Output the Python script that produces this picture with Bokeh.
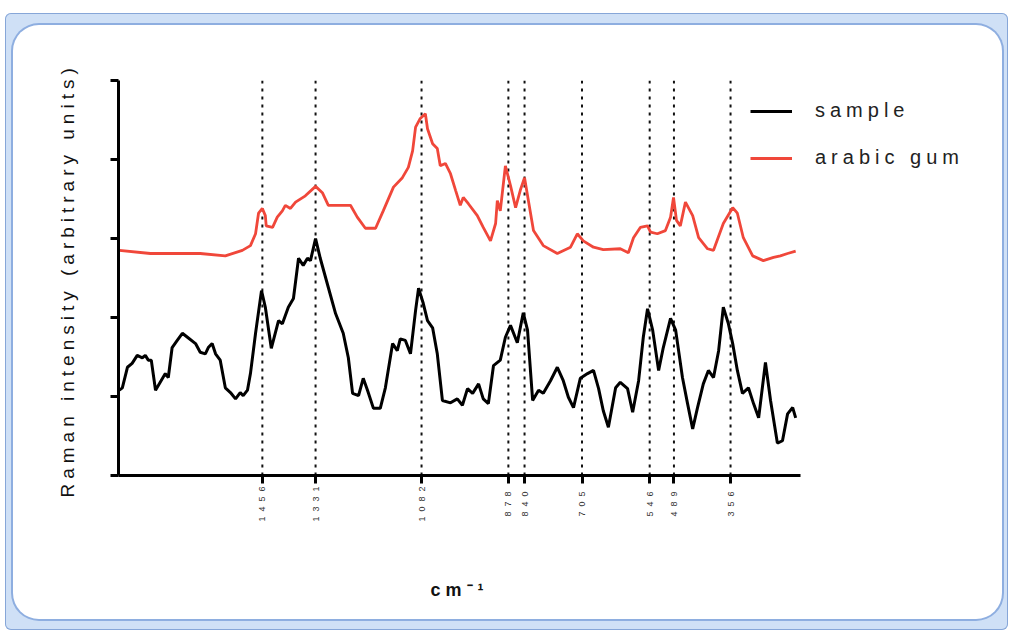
import math
from bokeh.plotting import figure
from bokeh.layouts import column
from bokeh.models import Range1d, FixedTicker, Legend, LegendItem, Title
from bokeh.embed import file_html
from bokeh.resources import INLINE

peaks = [1456, 1331, 1082, 878, 840, 705, 546, 489, 356]

sample_wn = [1792, 1785, 1773, 1762, 1750, 1738, 1731, 1724, 1717, 1707,
             1696, 1684, 1677, 1668, 1656, 1644, 1632, 1613, 1602, 1590,
             1583, 1574, 1566, 1555, 1543, 1531, 1519, 1508, 1501, 1491,
             1484, 1472, 1458, 1449, 1435, 1418, 1409, 1395, 1383, 1371,
             1360, 1350, 1343, 1331, 1320, 1301, 1284, 1266, 1254, 1244,
             1230, 1219, 1209, 1195, 1179, 1167, 1150, 1139, 1132, 1120,
             1108, 1096, 1089, 1078, 1068, 1056, 1045, 1033, 1014, 998,
             986, 974, 962, 948, 937, 925, 913, 897, 885, 873,
             857, 843, 833, 821, 807, 796, 779, 763, 749, 737,
             725, 709, 692, 678, 666, 655, 643, 626, 615, 598,
             586, 572, 561, 551, 539, 525, 514, 497, 485, 469,
             457, 445, 434, 420, 408, 396, 384, 373, 361, 351,
             340, 328, 314, 302, 290, 274, 262, 246, 234, 222,
             210, 203]
sample_int = [1.08, 1.11, 1.37, 1.42, 1.52, 1.49, 1.52, 1.46, 1.46, 1.08,
              1.18, 1.29, 1.24, 1.62, 1.71, 1.80, 1.75, 1.67, 1.56, 1.54,
              1.62, 1.67, 1.54, 1.46, 1.11, 1.05, 0.97, 1.05, 1.01, 1.08,
              1.29, 1.80, 2.34, 2.13, 1.61, 1.96, 1.92, 2.13, 2.24, 2.75,
              2.66, 2.75, 2.72, 3.00, 2.75, 2.38, 2.05, 1.80, 1.49, 1.04,
              1.01, 1.23, 1.08, 0.85, 0.85, 1.11, 1.67, 1.58, 1.73, 1.71,
              1.54, 2.09, 2.37, 2.18, 1.96, 1.87, 1.54, 0.95, 0.92, 0.97,
              0.89, 1.10, 1.04, 1.16, 0.97, 0.91, 1.39, 1.46, 1.75, 1.90,
              1.68, 2.06, 1.84, 0.95, 1.08, 1.04, 1.20, 1.37, 1.20, 0.99,
              0.86, 1.23, 1.29, 1.33, 1.10, 0.82, 0.61, 1.11, 1.18, 1.10,
              0.80, 1.20, 1.75, 2.11, 1.84, 1.33, 1.62, 1.99, 1.84, 1.24,
              0.91, 0.59, 0.85, 1.16, 1.33, 1.24, 1.58, 2.13, 1.92, 1.67,
              1.33, 1.04, 1.11, 0.91, 0.73, 1.43, 0.95, 0.41, 0.44, 0.78,
              0.86, 0.73]

gum_wn = [1792, 1719, 1602, 1543, 1503, 1484, 1472, 1465, 1456, 1449,
          1447, 1432, 1421, 1409, 1402, 1390, 1378, 1355, 1331, 1315,
          1301, 1249, 1233, 1214, 1190, 1172, 1148, 1127, 1113, 1103,
          1096, 1085, 1073, 1068, 1056, 1045, 1038, 1026, 1014, 1002,
          991, 984, 972, 951, 937, 920, 908, 904, 897, 885,
          873, 861, 850, 840, 831, 819, 796, 763, 732, 716,
          702, 678, 655, 615, 596, 584, 568, 551, 544, 528,
          509, 497, 490, 483, 474, 462, 445, 431, 410, 396,
          373, 351, 340, 326, 304, 279, 255, 239, 222, 203]
gum_int = [2.85, 2.81, 2.81, 2.78, 2.85, 2.91, 3.06, 3.32, 3.38, 3.29,
           3.16, 3.14, 3.27, 3.35, 3.42, 3.38, 3.46, 3.54, 3.66, 3.58,
           3.42, 3.42, 3.27, 3.13, 3.13, 3.35, 3.65, 3.77, 3.90, 4.11,
           4.41, 4.52, 4.58, 4.39, 4.20, 4.14, 3.92, 3.95, 3.82, 3.61,
           3.42, 3.52, 3.44, 3.29, 3.14, 2.97, 3.19, 3.48, 3.35, 3.92,
           3.67, 3.39, 3.61, 3.77, 3.48, 3.10, 2.91, 2.81, 2.89, 3.06,
           2.97, 2.89, 2.86, 2.87, 2.82, 3.01, 3.14, 3.16, 3.08, 3.06,
           3.10, 3.27, 3.52, 3.23, 3.16, 3.46, 3.29, 3.01, 2.87, 2.85,
           3.19, 3.39, 3.32, 3.01, 2.78, 2.72, 2.76, 2.78, 2.81, 2.84]

y_ticks = [0, 1, 2, 3, 4, 5]
x_axis_span = (1794, 192)
series_names = ["sample", "arabic gum"]
x_title = "cm⁻¹"
y_title = "Raman intensity (arbitrary units)"
FONT = "Liberation Sans"

fig = figure(width=989, height=594, output_backend="svg", toolbar_location=None,
             x_range=Range1d(1794, -243), y_range=Range1d(0, 5),
             min_border_left=105, min_border_right=17,
             min_border_top=55, min_border_bottom=144,
             margin=(12, 6, 11, 8))
fig.styles = {"letter-spacing": "5px", "border-radius": "26px",
              "overflow": "hidden", "box-shadow": "0 0 0 2px #8eaee0",
              "background-color": "white"}
fig.border_fill_color = None
fig.background_fill_color = None
fig.outline_line_color = None
fig.xgrid.visible = False
fig.ygrid.visible = False

# dotted peak markers
fig.segment(x0=peaks, y0=[y_ticks[0]] * len(peaks), x1=peaks, y1=[y_ticks[-1]] * len(peaks),
            line_color="#111111", line_width=2, line_dash="3 5")

r_gum = fig.line(gum_wn, gum_int, line_color="#f0473a", line_width=2.8)
r_sample = fig.line(sample_wn, sample_int, line_color="black", line_width=3)

legend = Legend(items=[LegendItem(label=series_names[0], renderers=[r_sample]),
                       LegendItem(label=series_names[1], renderers=[r_gum])],
                location=(632, 306), border_line_color=None,
                background_fill_alpha=0, padding=0, margin=0, spacing=24,
                glyph_width=42, glyph_height=20, label_height=20,
                label_standoff=23, label_text_font=FONT,
                label_text_font_size="20px", label_text_color="#222222")
fig.add_layout(legend)

xa = fig.xaxis[0]
xa.bounds = x_axis_span
xa.ticker = FixedTicker(ticks=peaks)
xa.major_label_orientation = math.pi / 2
xa.major_label_text_font = FONT
xa.major_label_text_font_size = "9px"
xa.major_label_text_color = "#333333"
xa.major_label_standoff = 18
xa.axis_line_width = 3
xa.major_tick_line_width = 3
xa.major_tick_out = 8
xa.major_tick_in = 0
xa.minor_tick_line_color = None
# blank axis label used only as vertical spacing before the x title
xa.axis_label = " "
xa.axis_label_text_font_size = "18px"
xa.axis_label_standoff = 25

ya = fig.yaxis[0]
ya.ticker = FixedTicker(ticks=y_ticks)
ya.major_label_overrides = {t: "" for t in y_ticks}
ya.axis_line_width = 3
ya.major_tick_line_width = 3
ya.major_tick_out = 8
ya.major_tick_in = 0
ya.minor_tick_line_color = None

# axis titles placed as panel titles so that their position can be set exactly
fig.add_layout(Title(text=x_title, align="left", offset=312, standoff=10,
                     text_font=FONT, text_font_size="18px", text_font_style="bold",
                     text_color="#111111"), "below")
fig.add_layout(Title(text=y_title, align="left", offset=-22, standoff=65,
                     text_font=FONT, text_font_size="19px", text_font_style="normal",
                     text_color="#111111"), "left")

p = column(fig, margin=(13, 0, 0, 5),
           styles={"background-color": "#cfe0f6", "border-radius": "6px",
                   "box-shadow": "inset 0 0 0 1px #86a6d8"})

open("out.html", "w").write(file_html(p, INLINE))
